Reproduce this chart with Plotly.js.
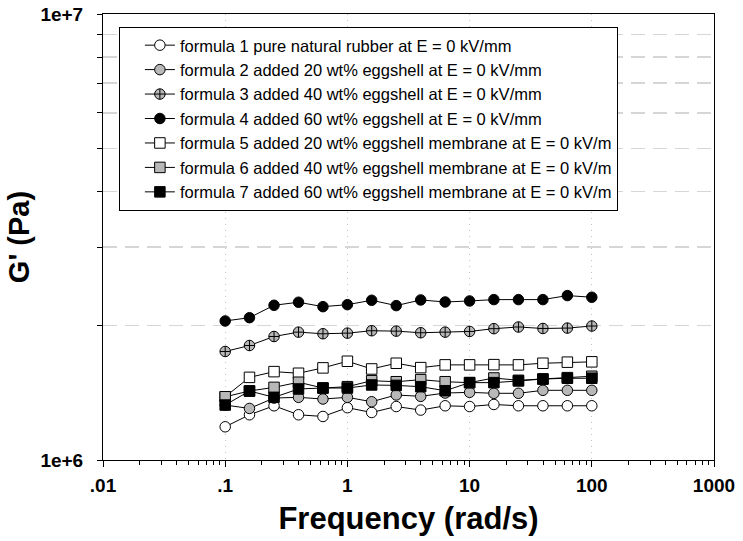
<!DOCTYPE html>
<html>
<head>
<meta charset="utf-8">
<script src="https://cdn.plot.ly/plotly-3.0.1.min.js"></script>
<style>html,body{margin:0;padding:0;background:#fff;}#chart{width:743px;height:541px;}</style>
</head>
<body>
<div id="chart"></div>
<script>
// Frequency (rad/s)
const freq = [0.1, 0.158, 0.251, 0.398, 0.631, 1, 1.58, 2.51, 3.98, 6.31, 10, 15.8, 25.1, 39.8, 63.1, 100];

// G' (Pa) for each formula
const f1 = [1.187e6, 1.263e6, 1.323e6, 1.263e6, 1.252e6, 1.310e6, 1.278e6, 1.318e6, 1.294e6, 1.323e6, 1.318e6, 1.332e6, 1.323e6, 1.323e6, 1.323e6, 1.323e6];
const f2 = [1.328e6, 1.305e6, 1.377e6, 1.382e6, 1.370e6, 1.382e6, 1.351e6, 1.399e6, 1.389e6, 1.413e6, 1.418e6, 1.411e6, 1.411e6, 1.433e6, 1.433e6, 1.433e6];
const f3 = [1.751e6, 1.806e6, 1.892e6, 1.935e6, 1.919e6, 1.925e6, 1.949e6, 1.945e6, 1.929e6, 1.935e6, 1.942e6, 1.970e6, 1.987e6, 1.972e6, 1.976e6, 1.997e6];
const f4 = [2.050e6, 2.085e6, 2.223e6, 2.258e6, 2.207e6, 2.230e6, 2.281e6, 2.219e6, 2.285e6, 2.261e6, 2.273e6, 2.289e6, 2.289e6, 2.289e6, 2.337e6, 2.317e6];
const f5 = [1.386e6, 1.532e6, 1.578e6, 1.565e6, 1.609e6, 1.665e6, 1.600e6, 1.648e6, 1.611e6, 1.634e6, 1.634e6, 1.636e6, 1.634e6, 1.648e6, 1.657e6, 1.660e6];
const f6 = [1.386e6, 1.428e6, 1.455e6, 1.494e6, 1.450e6, 1.460e6, 1.506e6, 1.498e6, 1.514e6, 1.498e6, 1.491e6, 1.527e6, 1.509e6, 1.519e6, 1.530e6, 1.541e6];
const f7 = [1.328e6, 1.428e6, 1.382e6, 1.443e6, 1.450e6, 1.450e6, 1.473e6, 1.470e6, 1.460e6, 1.430e6, 1.491e6, 1.491e6, 1.504e6, 1.519e6, 1.525e6, 1.525e6];

const seriesNames = [
  "formula 1 pure natural rubber at E = 0 kV/mm",
  "formula 2 added 20 wt% eggshell at E = 0 kV/mm",
  "formula 3 added 40 wt% eggshell at E = 0 kV/mm",
  "formula 4 added 60 wt% eggshell at E = 0 kV/mm",
  "formula 5 added 20 wt% eggshell membrane at E = 0 kV/m",
  "formula 6 added 40 wt% eggshell membrane at E = 0 kV/m",
  "formula 7 added 60 wt% eggshell membrane at E = 0 kV/m"
];

// Tick labels
const xTickVals = [0.01, 0.1, 1, 10, 100, 1000];
const xTickText = [".01", ".1", "1", "10", "100", "1000"];
const yTickVals = [1e6, 1e7];
const yTickText = ["1e+6", "1e+7"];

const GRAY = "#b8b8b8";
const styles = [
  {symbol: "circle", color: "#ffffff"},
  {symbol: "circle", color: GRAY},
  {symbol: "circle-cross", color: GRAY},
  {symbol: "circle", color: "#000000"},
  {symbol: "square", color: "#ffffff"},
  {symbol: "square", color: GRAY},
  {symbol: "square", color: "#000000"}
];
const allY = [f1, f2, f3, f4, f5, f6, f7];

const traces = allY.map((ys, i) => ({
  x: freq,
  y: ys,
  name: seriesNames[i],
  type: "scatter",
  mode: "lines+markers",
  line: {color: "#000", width: 1},
  marker: {symbol: styles[i].symbol, color: styles[i].color, size: 10.5,
           line: {color: "#000", width: 1}}
}));

// minor tick positions (2..9 per decade)
const xMinor = [];
for (let e = -2; e < 3; e++) for (let d = 2; d <= 9; d++) xMinor.push(d * Math.pow(10, e));
const yMinor = [];
for (let d = 2; d <= 9; d++) yMinor.push(d * 1e6);

const FAM = "Liberation Sans, Arial, sans-serif";
const tickFont = {family: FAM, size: 19, color: "#000", weight: "bold"};

const layout = {
  width: 743, height: 541,
  margin: {l: 103, r: 29, t: 14, b: 81},
  paper_bgcolor: "#fff", plot_bgcolor: "#fff",
  showlegend: true,
  legend: {
    x: 0.026, y: 0.971, xanchor: "left", yanchor: "top",
    bgcolor: "#fff", bordercolor: "#000", borderwidth: 1,
    font: {family: FAM, size: 16.5, color: "#000"},
    indentation: 20,
    tracegroupgap: 0
  },
  xaxis: {
    type: "log",
    range: [-2, 3],
    tickmode: "array", tickvals: xTickVals, ticktext: xTickText,
    ticks: "outside", ticklen: 6, tickwidth: 1, tickcolor: "#000",
    ticklabelstandoff: 2,
    showline: true, linecolor: "#000", linewidth: 1, mirror: true,
    showgrid: true, gridcolor: "#c4c4c4", gridwidth: 1, griddash: "1px,5px",
    zeroline: false,
    tickfont: tickFont,
    minor: {tickmode: "array", tickvals: xMinor, ticks: "outside", ticklen: 4, tickcolor: "#000", showgrid: false},
    title: {text: "Frequency (rad/s)", font: {family: FAM, size: 31, color: "#000", weight: "bold"}, standoff: 12}
  },
  yaxis: {
    type: "log",
    range: [6, 7],
    tickmode: "array", tickvals: yTickVals, ticktext: yTickText,
    ticks: "outside", ticklen: 5, tickwidth: 1, tickcolor: "#000",
    ticklabelstandoff: 10,
    showline: true, linecolor: "#000", linewidth: 1, mirror: true,
    showgrid: false,
    zeroline: false,
    tickfont: tickFont,
    minor: {tickmode: "array", tickvals: yMinor, ticks: "outside", ticklen: 5, tickcolor: "#000",
            showgrid: true, gridcolor: "#d6d6d6", gridwidth: 1.5, griddash: "14px,8px"},
    title: {text: "G' (Pa)", font: {family: FAM, size: 29, color: "#000", weight: "bold"}, standoff: 2}
  }
};

Plotly.newPlot("chart", traces, layout, {displayModeBar: false, staticPlot: true});
</script>
</body>
</html>
